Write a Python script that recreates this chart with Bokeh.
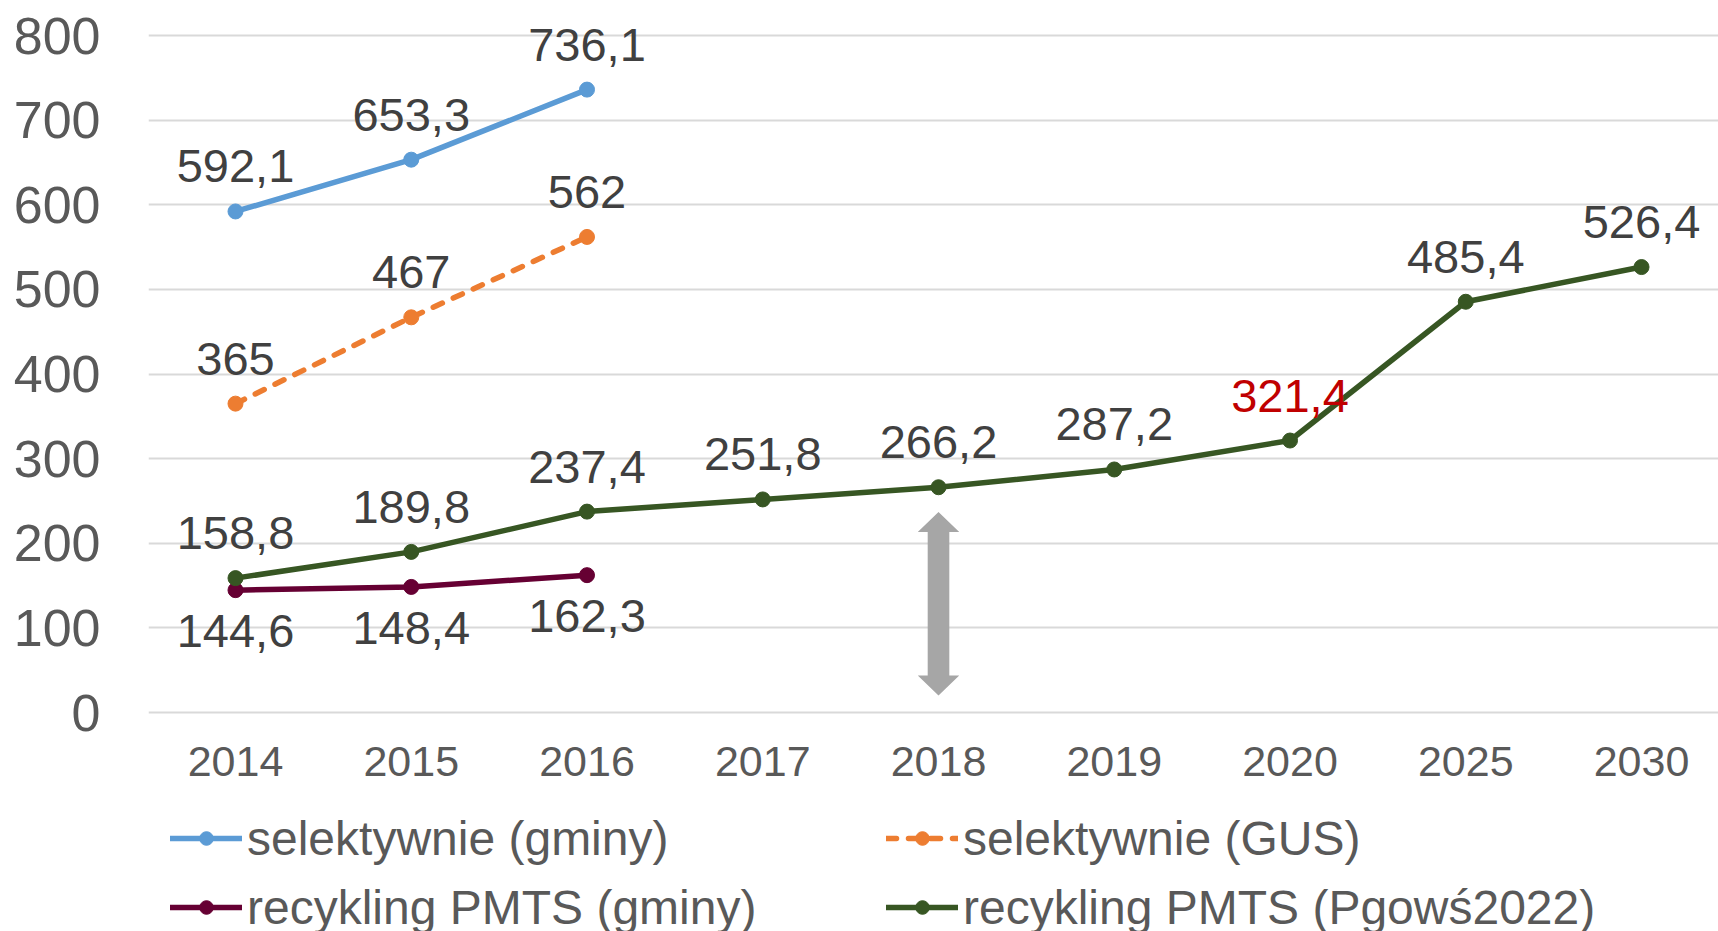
from bokeh.plotting import figure
from bokeh.layouts import column
from bokeh.models import (Range1d, FixedTicker, Legend, LegendItem, ColumnDataSource)
from bokeh.core.properties import value
from bokeh.embed import file_html
from bokeh.resources import INLINE

# ---------------- data ----------------
categories = ["2014", "2015", "2016", "2017", "2018", "2019", "2020", "2025", "2030"]

sel_gminy_cats = ["2014", "2015", "2016"]
sel_gminy_vals = [592.1, 653.3, 736.1]

sel_gus_cats = ["2014", "2015", "2016"]
sel_gus_vals = [365, 467, 562]

rec_gminy_cats = ["2014", "2015", "2016"]
rec_gminy_vals = [144.6, 148.4, 162.3]

rec_pgows_cats = categories
rec_pgows_vals = [158.8, 189.8, 237.4, 251.8, 266.2, 287.2, 321.4, 485.4, 526.4]

y_ticks = [0, 100, 200, 300, 400, 500, 600, 700, 800]

series_names = ["selektywnie (gminy)", "selektywnie (GUS)",
                "recykling PMTS (gminy)", "recykling PMTS (Pgowś2022)"]

highlight_cat = "2020"          # label shown in red
arrow_cat = "2018"              # grey double arrow annotation
arrow_low, arrow_high = 20, 237

# ---------------- helpers ----------------
idx = {c: i for i, c in enumerate(categories)}

def fmt(v):
    s = ("%.1f" % v).rstrip("0").rstrip(".")
    return s.replace(".", ",")

FONT = "Liberation Sans"
LABEL_COLOR = "#404040"
TICK_COLOR = "#595959"

p = figure(width=1718, height=800, output_backend="svg", toolbar_location=None,
           x_range=Range1d(-0.495, 8.438), y_range=Range1d(-9.45, 841.4),
           min_border_left=148, min_border_right=0, min_border_top=0,
           min_border_bottom=80, outline_line_color=None)
p.background_fill_color = "white"
p.border_fill_color = "white"

# axes
p.xaxis.ticker = FixedTicker(ticks=list(range(len(categories))))
p.xaxis.major_label_overrides = {i: c for i, c in enumerate(categories)}
p.xaxis.major_label_text_font = FONT
p.xaxis.major_label_text_font_size = "43px"
p.xaxis.major_label_text_color = TICK_COLOR
p.xaxis.major_label_standoff = 26
p.yaxis.ticker = FixedTicker(ticks=y_ticks)
p.yaxis.major_label_text_font = FONT
p.yaxis.major_label_text_font_size = "52px"
p.yaxis.major_label_text_color = TICK_COLOR
p.yaxis.major_label_standoff = 48
for ax in (p.xaxis, p.yaxis):
    ax.axis_line_color = None
    ax.major_tick_line_color = None
    ax.minor_tick_line_color = None
    ax.major_tick_out = 0
    ax.major_tick_in = 0

p.xgrid.grid_line_color = None
p.ygrid.ticker = FixedTicker(ticks=y_ticks)
p.ygrid.grid_line_color = "#D9D9D9"
p.ygrid.grid_line_width = 2

# arrow annotation (grey double arrow)
ax0 = idx[arrow_cat]
shaft = 0.0615
head = 0.118
head_len = 23.6
p.patch(x=[ax0, ax0 + head, ax0 + shaft, ax0 + shaft, ax0 + head, ax0,
           ax0 - head, ax0 - shaft, ax0 - shaft, ax0 - head],
        y=[arrow_high, arrow_high - head_len, arrow_high - head_len,
           arrow_low + head_len, arrow_low + head_len, arrow_low,
           arrow_low + head_len, arrow_low + head_len,
           arrow_high - head_len, arrow_high - head_len],
        fill_color="#A6A6A6", line_color=None)

series = [
    (sel_gminy_cats, sel_gminy_vals, "#5B9BD5", "solid", "above"),
    (sel_gus_cats, sel_gus_vals, "#ED7D31", "10 12", "above"),
    (rec_gminy_cats, rec_gminy_vals, "#660033", "solid", "below"),
    (rec_pgows_cats, rec_pgows_vals, "#375623", "solid", "above"),
]

for (cats, vals, color, dash, pos) in series:
    xs = [idx[c] for c in cats]
    src = ColumnDataSource(dict(x=xs, y=vals, lab=[fmt(v) for v in vals],
                                col=[("#C00000" if c == highlight_cat else LABEL_COLOR) for c in cats]))
    p.line("x", "y", source=src, line_color=color, line_width=5.5,
           line_dash=dash, line_cap="round", line_join="round")
    p.scatter("x", "y", source=src, marker="circle", size=15,
              fill_color=color, line_color=color)
    p.text("x", "y", text="lab", source=src, text_align="center",
           text_baseline="alphabetic", y_offset=(-45 if pos == "above" else 41),
           text_font=value(FONT), text_font_size="47px", text_color="col")

# ---------------- legend strip (second figure) ----------------
lg_fig = figure(width=1718, height=131, output_backend="svg", toolbar_location=None,
                x_range=Range1d(0, 1), y_range=Range1d(0, 1),
                x_axis_type=None, y_axis_type=None, outline_line_color=None,
                min_border_left=0, min_border_right=0, min_border_top=0,
                min_border_bottom=0)
lg_fig.grid.visible = False

legend_renderers = []
for (cats, vals, color, dash, pos), name in zip(series, series_names):
    # proxy renderers placed outside the visible range (legend glyphs only)
    r1 = lg_fig.line(x=[-10, -9], y=[-10, -10], line_color=color, line_width=5.5,
                     line_dash=dash, line_cap="round")
    r2 = lg_fig.scatter(x=[-10], y=[-10], marker="circle", size=15,
                        fill_color=color, line_color=color)
    legend_renderers.append((name, [r1, r2]))

def make_legend(items, loc):
    return Legend(items=[LegendItem(label=n, renderers=r) for n, r in items],
                  location=loc, orientation="vertical",
                  label_text_font=FONT, label_text_font_size="48px",
                  label_text_color=TICK_COLOR, glyph_width=72, glyph_height=34,
                  label_height=60, label_standoff=5, spacing=9, padding=0,
                  margin=0, border_line_color=None, background_fill_alpha=0)

lg_fig.add_layout(make_legend([legend_renderers[0], legend_renderers[2]], (22, -6)))
lg_fig.add_layout(make_legend([legend_renderers[1], legend_renderers[3]], (738, -6)))

layout = column(p, lg_fig, spacing=0)
open("out.html", "w").write(file_html(layout, INLINE))
